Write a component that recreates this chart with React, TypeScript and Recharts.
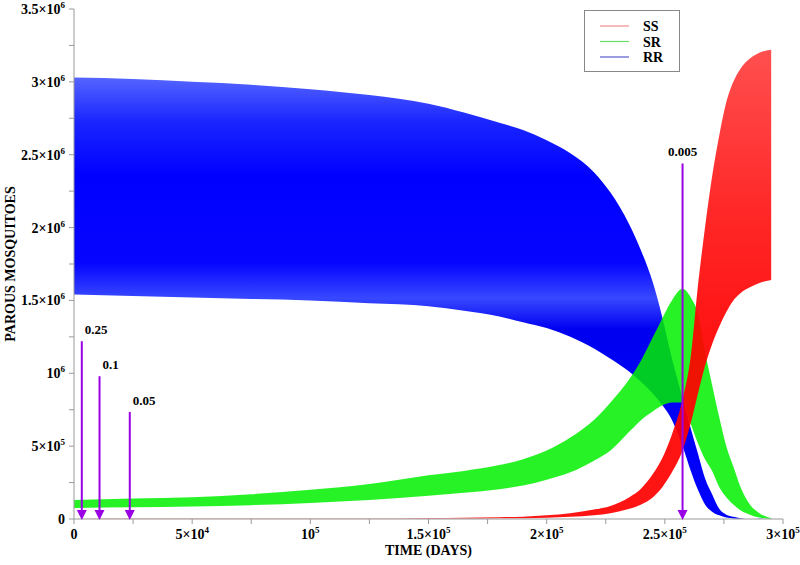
import { Area, AreaChart, Legend, ReferenceDot, ReferenceLine, XAxis, YAxis } from "recharts"

// time in days, parous mosquito counts in units of 10^6 (min / max of the oscillation)
const days = [
  0, 25000, 50000, 75000, 100000, 125000, 150000, 165000, 180000, 190000, 200000, 210000, 220000, 227000, 235000,
  240000, 245000, 249000, 253000, 257500, 261000, 264000, 267000, 270000, 273000, 276000, 279000, 282000, 286000,
  290000, 295000,
]

const rrHigh = [
  3.03, 3.02, 3.0, 2.98, 2.95, 2.91, 2.85, 2.79, 2.72, 2.67, 2.6, 2.51, 2.38, 2.24, 2.02, 1.84, 1.62, 1.38, 1.1, 0.83,
  0.62, 0.45, 0.28, 0.17, 0.07, 0.03, 0.015, 0.006, 0.002, 0.001, 0,
]
const rrLow = [
  1.54, 1.53, 1.52, 1.51, 1.5, 1.48, 1.46, 1.43, 1.39, 1.35, 1.31, 1.25, 1.17, 1.1, 1.01, 0.94, 0.86, 0.78, 0.68, 0.5,
  0.33, 0.2, 0.1, 0.05, 0.025, 0.01, 0.004, 0.002, 0.001, 0, 0,
]

const srHigh = [
  0.13, 0.14, 0.15, 0.17, 0.2, 0.24, 0.3, 0.33, 0.37, 0.41, 0.47, 0.56, 0.68, 0.8, 0.96, 1.09, 1.25, 1.38, 1.5, 1.58,
  1.52, 1.41, 1.15, 0.92, 0.7, 0.5, 0.36, 0.22, 0.1, 0.04, 0.005,
]
const srLow = [
  0.075, 0.08, 0.085, 0.095, 0.11, 0.13, 0.16, 0.18, 0.205, 0.23, 0.27, 0.32, 0.4, 0.47, 0.6, 0.68, 0.74, 0.78, 0.8,
  0.8, 0.65, 0.52, 0.41, 0.33, 0.22, 0.15, 0.1, 0.06, 0.03, 0.01, 0,
]

const ssHigh = [
  0, 0.001, 0.001, 0.002, 0.003, 0.004, 0.006, 0.008, 0.012, 0.016, 0.025, 0.04, 0.065, 0.09, 0.15, 0.21, 0.31, 0.42,
  0.58, 0.82, 1.12, 1.6, 2.0, 2.35, 2.63, 2.86, 3.0, 3.09, 3.16, 3.2, 3.22,
]
const ssLow = [
  0, 0, 0, 0, 0.001, 0.001, 0.002, 0.003, 0.005, 0.006, 0.008, 0.015, 0.025, 0.04, 0.07, 0.1, 0.15, 0.22, 0.32, 0.47,
  0.66, 0.86, 1.05, 1.2, 1.32, 1.42, 1.5, 1.55, 1.59, 1.62, 1.64,
]

// vertical arrows marking the frequencies
const arrowDays = [3300, 10800, 23600, 257500]
const arrowTops = [1.22, 0.98, 0.735, 2.44]
const arrowLabels = ["0.25", "0.1", "0.05", "0.005"]

const xTicks = [0, 25000, 50000, 75000, 100000, 125000, 150000, 175000, 200000, 225000, 250000, 275000, 300000]
const yTicks = [0, 0.25, 0.5, 0.75, 1, 1.25, 1.5, 1.75, 2, 2.25, 2.5, 2.75, 3, 3.25, 3.5]

const legendNames = ["SS", "SR", "RR"]
const legendColors = ["#f08c8c", "#66dd66", "#5a5acc"]

const data = days.map((t, i) => ({
  t,
  rr: [rrLow[i], rrHigh[i]],
  sr: [srLow[i], srHigh[i]],
  ss: [ssLow[i], ssHigh[i]],
}))

const FONT = '"Liberation Serif", "Times New Roman", serif'
const PURPLE = "#9a00e6"

function sci(n: number) {
  if (n === 0) return { m: "0", e: "" }
  const e = Math.floor(Math.log10(n) + 1e-9)
  const m = Math.round((n / Math.pow(10, e)) * 100) / 100
  return { m: m === 1 ? "10" : `${m}\u00d710`, e: String(e) }
}

function TickText({ x, y, n, anchor }: { x: number; y: number; n: number; anchor: string }) {
  const { m, e } = sci(n)
  return (
    <text x={x} y={y} textAnchor={anchor} fontFamily={FONT} fontWeight="bold" fontSize={14} fill="#000">
      <tspan>{m}</tspan>
      {e && (
        <tspan dy={-6} fontSize={9}>
          {e}
        </tspan>
      )}
    </text>
  )
}

const XTick = (props: any) => {
  const { x, y, payload } = props
  if (payload.value % 50000 !== 0) return <g />
  return <TickText x={x} y={y + 13} n={payload.value} anchor="middle" />
}

const YTick = (props: any) => {
  const { x, y, payload } = props
  const v = payload.value
  if (Math.abs(v * 2 - Math.round(v * 2)) > 1e-6) return <g />
  return <TickText x={x - 2} y={y + 5} n={Math.round(v * 1e6)} anchor="end" />
}

const Arrowhead = (props: any) => {
  const { cx, cy } = props
  return <path d={`M${cx - 5},${cy - 9} L${cx + 5},${cy - 9} L${cx},${cy + 1} Z`} fill={PURPLE} />
}

const LegendBox = () => (
  <div style={{ width: 96, height: 62, border: "1px solid #888", boxSizing: "border-box", background: "#fff" }}>
    <svg width={94} height={60}>
      {legendNames.map((name, i) => (
        <g key={name}>
          <line x1={15} x2={44} y1={15 + i * 15.5} y2={15 + i * 15.5} stroke={legendColors[i]} strokeWidth={1.2} />
          <text x={58} y={20 + i * 15.5} fontFamily={FONT} fontWeight="bold" fontSize={14} fill="#000">
            {name}
          </text>
        </g>
      ))}
    </svg>
  </div>
)

const titleStyle = { fontFamily: FONT, fontWeight: "bold", fontSize: 14, fill: "#000" }

export default function App() {
  return (
    <div style={{ position: "absolute", left: 0, top: 0 }}>
      <AreaChart
        width={800}
        height={565}
        data={data}
        margin={{ top: 9, right: 17, bottom: 16, left: 0 }}
        style={{ fontFamily: FONT }}
      >
        <defs>
          <linearGradient id="rrFill" x1="0" y1="0" x2="0" y2="1">
            <stop offset="0" stopColor="#5565ff" />
            <stop offset="0.1" stopColor="#1a25ff" />
            <stop offset="0.22" stopColor="#0000ff" />
            <stop offset="0.42" stopColor="#0505ff" />
            <stop offset="0.5" stopColor="#3848ff" />
            <stop offset="0.57" stopColor="#0000f0" />
            <stop offset="1" stopColor="#0000ff" />
          </linearGradient>
          <linearGradient id="ssFill" x1="0" y1="0" x2="0" y2="1">
            <stop offset="0" stopColor="#ff4040" />
            <stop offset="0.35" stopColor="#ff1515" />
            <stop offset="0.6" stopColor="#ff0000" />
            <stop offset="1" stopColor="#ff0000" />
          </linearGradient>
        </defs>
        <XAxis
          type="number"
          dataKey="t"
          domain={[0, 300000]}
          ticks={xTicks}
          interval={0}
          height={30}
          stroke="#999"
          tickSize={5}
          tick={XTick}
          label={{ value: "TIME (DAYS)", position: "insideBottom", offset: -6, style: titleStyle }}
        />
        <YAxis
          type="number"
          domain={[0, 3.5]}
          ticks={yTicks}
          interval={0}
          width={74}
          stroke="#999"
          tickSize={5}
          tick={YTick}
          label={{
            value: "PAROUS MOSQUITOES",
            angle: -90,
            position: "insideLeft",
            offset: 10,
            style: { ...titleStyle, textAnchor: "middle" },
          }}
        />
        <Area type="monotone" dataKey="rr" name="RR" stroke="none" fill="url(#rrFill)" fillOpacity={1} isAnimationActive={false} />
        <Area type="monotone" dataKey="sr" name="SR" stroke="none" fill="#00f000" fillOpacity={0.85} isAnimationActive={false} />
        <Area type="monotone" dataKey="ss" name="SS" stroke="none" fill="url(#ssFill)" fillOpacity={0.92} isAnimationActive={false} />
        {arrowDays.map((d, i) => (
          <ReferenceLine
            key={`l${i}`}
            segment={[
              { x: d, y: 0.05 },
              { x: d, y: arrowTops[i] },
            ]}
            stroke={PURPLE}
            strokeWidth={2}
          />
        ))}
        {arrowDays.map((d, i) => (
          <ReferenceDot key={`h${i}`} x={d} y={0} r={5} shape={Arrowhead} />
        ))}
        {arrowDays.map((d, i) => (
          <ReferenceDot
            key={`t${i}`}
            x={d}
            y={arrowTops[i]}
            r={1}
            shape={(p: any) => (
              <text
                x={i === 3 ? p.cx : p.cx + 3}
                y={p.cy - 7}
                textAnchor={i === 3 ? "middle" : "start"}
                fontFamily={FONT}
                fontWeight="bold"
                fontSize={13}
                fill="#000"
              >
                {arrowLabels[i]}
              </text>
            )}
          />
        ))}
        <Legend
          layout="horizontal"
          verticalAlign="middle"
          align="center"
          content={LegendBox}
          wrapperStyle={{ position: "absolute", left: 584, top: 10, width: 96, height: 62 }}
        />
      </AreaChart>
    </div>
  )
}
